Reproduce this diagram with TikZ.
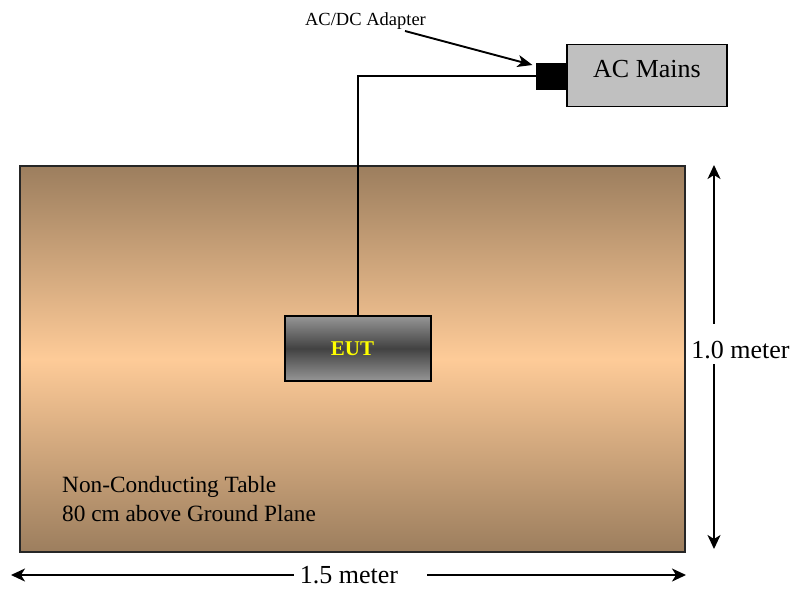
\documentclass[tikz,border=0pt]{standalone}
\usepackage{fontspec}
\setmainfont{Liberation Serif}
\usetikzlibrary{arrows.meta}
\definecolor{tbrown}{RGB}{156,126,94}
\definecolor{tpeach}{RGB}{254,203,152}
\definecolor{elight}{RGB}{150,150,150}
\definecolor{edark}{RGB}{66,66,66}
\definecolor{mainsgray}{RGB}{192,192,192}
\definecolor{eutyellow}{RGB}{255,255,0}
\tikzset{
  tablebox/.style={draw=black!85, line width=1.3pt, inner sep=0pt,
    top color=tbrown, bottom color=tbrown, middle color=tpeach},
  eutbox/.style={draw=black, line width=2pt, inner sep=0pt,
    top color=elight, bottom color=elight, middle color=edark},
  mainsbox/.style={draw=black, line width=1.3pt, inner sep=0pt, fill=mainsgray},
  plugbox/.style={draw=black, fill=black, inner sep=0pt},
  cable/.style={line width=1.6pt},
  dimarrow/.style={line width=1.8pt, {Stealth[length=14pt,width=13pt,inset=4pt]}-},
  ptr/.style={line width=1.9pt, -{Stealth[length=15pt,width=12pt,inset=4pt]}},
  bigtxt/.style={inner sep=0pt, font=\fontsize{26}{30}\selectfont},
  midtxt/.style={inner sep=0pt, font=\fontsize{23.3}{28}\selectfont},
  smalltxt/.style={inner sep=0pt, font=\fontsize{18.5}{22}\selectfont},
}
\begin{document}
\begin{tikzpicture}[x=1pt,y=-1pt]
\useasboundingbox (0,0) rectangle (791,589);
% table
\node[tablebox, minimum width=665pt, minimum height=386pt] (table) at (352.5,359) {};
% EUT
\node[eutbox, minimum width=146pt, minimum height=65pt] (eut) at (358,348.5) {};
\node[inner sep=0pt, text=eutyellow, font=\fontsize{21}{24}\selectfont\bfseries] (eutlabel) at (352.5,349) {EUT};
% AC mains and plug
\node[mainsbox, minimum width=160pt, minimum height=62pt] (mains) at (647,75.5) {};
\node[bigtxt] (mainslabel) at (647,69.5) {AC Mains};
\node[plugbox, minimum width=30pt, minimum height=26pt] (plug) at (551,76) {};
% cable
\draw[cable] (eut.north) |- (plug.west);
% adapter label and pointer
\node[smalltxt, anchor=base] (adapter) at (365.5,25.5) {AC/DC Adapter};
\coordinate (ptrstart) at (405,31);
\coordinate (ptrend) at (532.5,65);
\draw[ptr] (ptrstart) -- (ptrend);
% table text
\node[midtxt, anchor=base west] (tl1) at (62,492) {Non-Conducting Table};
\node[midtxt, anchor=base west] (tl2) at (62,521.5) {80 cm above Ground Plane};
% vertical dimension
\coordinate (vtop) at (714,165);
\coordinate (vtopend) at (714,324);
\coordinate (vbotstart) at (714,364);
\coordinate (vbot) at (714,549);
\node[bigtxt, anchor=base, text depth=0pt] (vlabel) at (740.5,358) {1.0 meter};
\draw[dimarrow] (vtop) -- (vtopend);
\draw[dimarrow] (vbot) -- (vbotstart);
% horizontal dimension
\coordinate (hleft) at (11,575);
\coordinate (hleftend) at (294,575);
\coordinate (hrightstart) at (427,575);
\coordinate (hright) at (686,575);
\node[bigtxt, anchor=base, text depth=0pt] (hlabel) at (349,583) {1.5 meter};
\draw[dimarrow] (hleft) -- (hleftend);
\draw[dimarrow] (hright) -- (hrightstart);
\end{tikzpicture}
\end{document}
